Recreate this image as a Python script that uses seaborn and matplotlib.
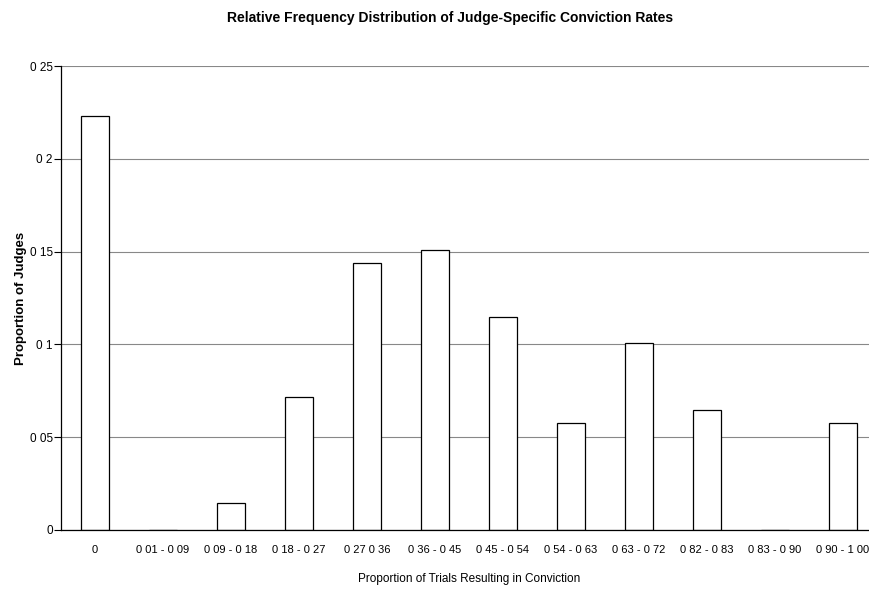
import pandas as pd
import numpy as np
import matplotlib
matplotlib.use("Agg")
import matplotlib.pyplot as plt
import seaborn as sns

# conviction-rate bins (labels as printed in the scanned source)
bins = ["0", "0 01 - 0 09", "0 09 - 0 18", "0 18 - 0 27", "0 27 0 36",
        "0 36 - 0 45", "0 45 - 0 54", "0 54 - 0 63", "0 63 - 0 72",
        "0 82 - 0 83", "0 83 - 0 90", "0 90 - 1 00"]
proportions = [0.223, 0.0, 0.0144, 0.0719, 0.1439, 0.151, 0.115,
               0.0576, 0.1007, 0.0647, 0.0, 0.0576]
y_ticks = [0, 0.05, 0.1, 0.15, 0.2, 0.25]
y_tick_labels = ["0", "0 05", "0 1", "0 15", "0 2", "0 25"]

df = pd.DataFrame({"Bin": bins, "Proportion": proportions})

sns.set_style("white")
plt.rcParams["font.family"] = ["Liberation Sans", "DejaVu Sans"]
plt.rcParams["text.color"] = "black"
plt.rcParams["axes.labelcolor"] = "black"
plt.rcParams["xtick.color"] = "black"
plt.rcParams["ytick.color"] = "black"

fig = plt.figure(figsize=(8.69, 5.90), dpi=100)
ax = fig.add_axes([0.0702, 0.1017, 0.939, 0.7864])

sns.barplot(data=df, x="Bin", y="Proportion", ax=ax, width=0.4,
            color="white", edgecolor="black", linewidth=0.9, saturation=1)

ax.set_ylim(0, 0.25)
ax.set_xlim(-0.5, len(bins) - 0.5)
ax.set_yticks(y_ticks)
ax.set_yticklabels(y_tick_labels, fontsize=8.5)
ax.yaxis.grid(True, color="#888888", linewidth=0.8)
ax.set_axisbelow(True)

# tick marks at the category boundaries, labels at centres
ax.set_xticks(np.arange(len(bins)))
ax.set_xticklabels(bins, fontsize=8)
ax.set_xticks(np.arange(len(bins) + 1) - 0.5, minor=True)
ax.tick_params(axis="x", which="major", length=0, pad=11)
ax.tick_params(axis="x", which="minor", length=5, width=0.8, direction="out")
ax.tick_params(axis="y", length=5, width=0.8, direction="out", left=True, pad=1)

for side in ["top", "right"]:
    ax.spines[side].set_visible(False)
for side in ["left", "bottom"]:
    ax.spines[side].set_color("black")
    ax.spines[side].set_linewidth(0.9)

ax.set_xlabel("Proportion of Trials Resulting in Conviction", fontsize=8.5, labelpad=13)
ax.set_ylabel("Proportion of Judges", fontsize=9.5, fontweight="bold", labelpad=2)
fig.suptitle("Relative Frequency Distribution of Judge-Specific Conviction Rates",
             fontsize=10, fontweight="bold", x=0.518, y=0.982)

fig.savefig("out.png", dpi=100)
